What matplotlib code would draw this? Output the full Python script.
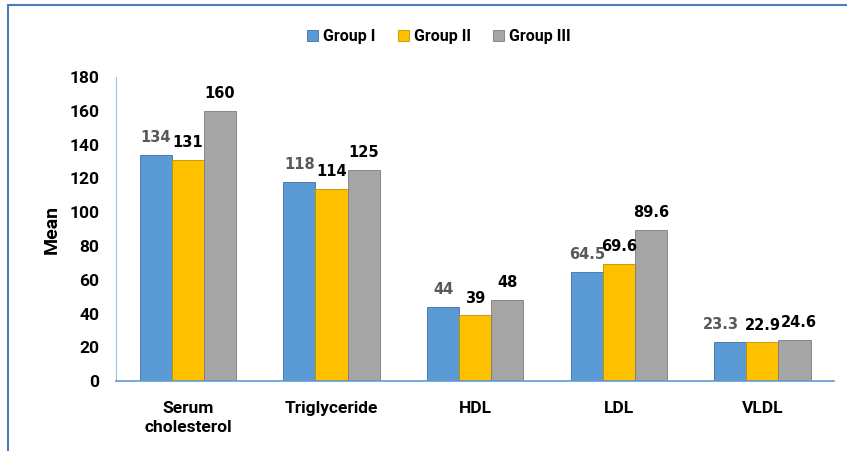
import matplotlib.pyplot as plt
import numpy as np
from matplotlib.lines import Line2D

categories = ['Serum\ncholesterol', 'Triglyceride', 'HDL', 'LDL', 'VLDL']
group_1 = [134, 118, 44, 64.5, 23.3]
group_2 = [131, 114, 39, 69.6, 22.9]
group_3 = [160, 125, 48, 89.6, 24.6]
labels_1 = ['134', '118', '44', '64.5', '23.3']
labels_2 = ['131', '114', '39', '69.6', '22.9']
labels_3 = ['160', '125', '48', '89.6', '24.6']
series_names = ['Group I', 'Group II', 'Group III']

plt.rcParams['font.family'] = ['Roboto', 'DejaVu Sans']

fig = plt.figure(figsize=(8.47, 4.51), dpi=100)
ax = fig.add_axes([0.137, 0.155, 0.848, 0.674])

x = np.arange(len(categories))
w = 0.223
colors = ['#5B9BD5', '#FFC000', '#A5A5A5']
edges = ['#41719C', '#BF9000', '#7C7C7C']
label_colors = ['#595959', 'black', 'black']
# small sideways nudges so the crowded VLDL labels don't collide
nudge = {(0, 4): -7, (2, 4): 3}

for i, (vals, labs) in enumerate(zip([group_1, group_2, group_3],
                                     [labels_1, labels_2, labels_3])):
    bars = ax.bar(x + (i - 1) * w, vals, w, color=colors[i], edgecolor=edges[i],
                  linewidth=0.6, label=series_names[i], zorder=2)
    for j, (b, t) in enumerate(zip(bars, labs)):
        ax.annotate(t, (b.get_x() + b.get_width() / 2, b.get_height()),
                    xytext=(nudge.get((i, j), 0), 7), textcoords='offset points',
                    ha='center', va='bottom', fontsize=10.5, fontweight='bold',
                    color=label_colors[i], family='DejaVu Sans')

ax.set_xlim(-0.5, len(categories) - 0.5)
ax.set_ylim(0, 180)
ax.set_yticks(np.arange(0, 181, 20))
ax.set_xticks(x)
ax.set_xticklabels(categories, fontsize=12.5, fontweight='bold', linespacing=1.4)
ax.tick_params(axis='y', labelsize=12.5, length=0, pad=12)
ax.tick_params(axis='x', length=0, pad=14)
for lab in ax.get_yticklabels():
    lab.set_fontweight('bold')
ax.set_ylabel('Mean', fontsize=14, fontweight='bold', labelpad=6)

for s in ['top', 'right']:
    ax.spines[s].set_visible(False)
ax.spines['left'].set_color('#9DC3E6')
ax.spines['bottom'].set_color('#5B9BD5')
ax.spines['bottom'].set_linewidth(1.2)

ax.legend(loc='center', bbox_to_anchor=(0.518, 0.918), bbox_transform=fig.transFigure,
          ncol=3, frameon=False, prop={'weight': 'bold', 'size': 11.5},
          handlelength=0.7, handleheight=0.7, handletextpad=0.3, columnspacing=1.4)

# outer frame along the left and top edges
fig.add_artist(Line2D([0.0095, 0.0095], [0, 0.989], color='#4A7EBB', lw=1.5))
fig.add_artist(Line2D([0.0095, 1], [0.989, 0.989], color='#4A7EBB', lw=1.5))

fig.savefig('out.png', dpi=100)
